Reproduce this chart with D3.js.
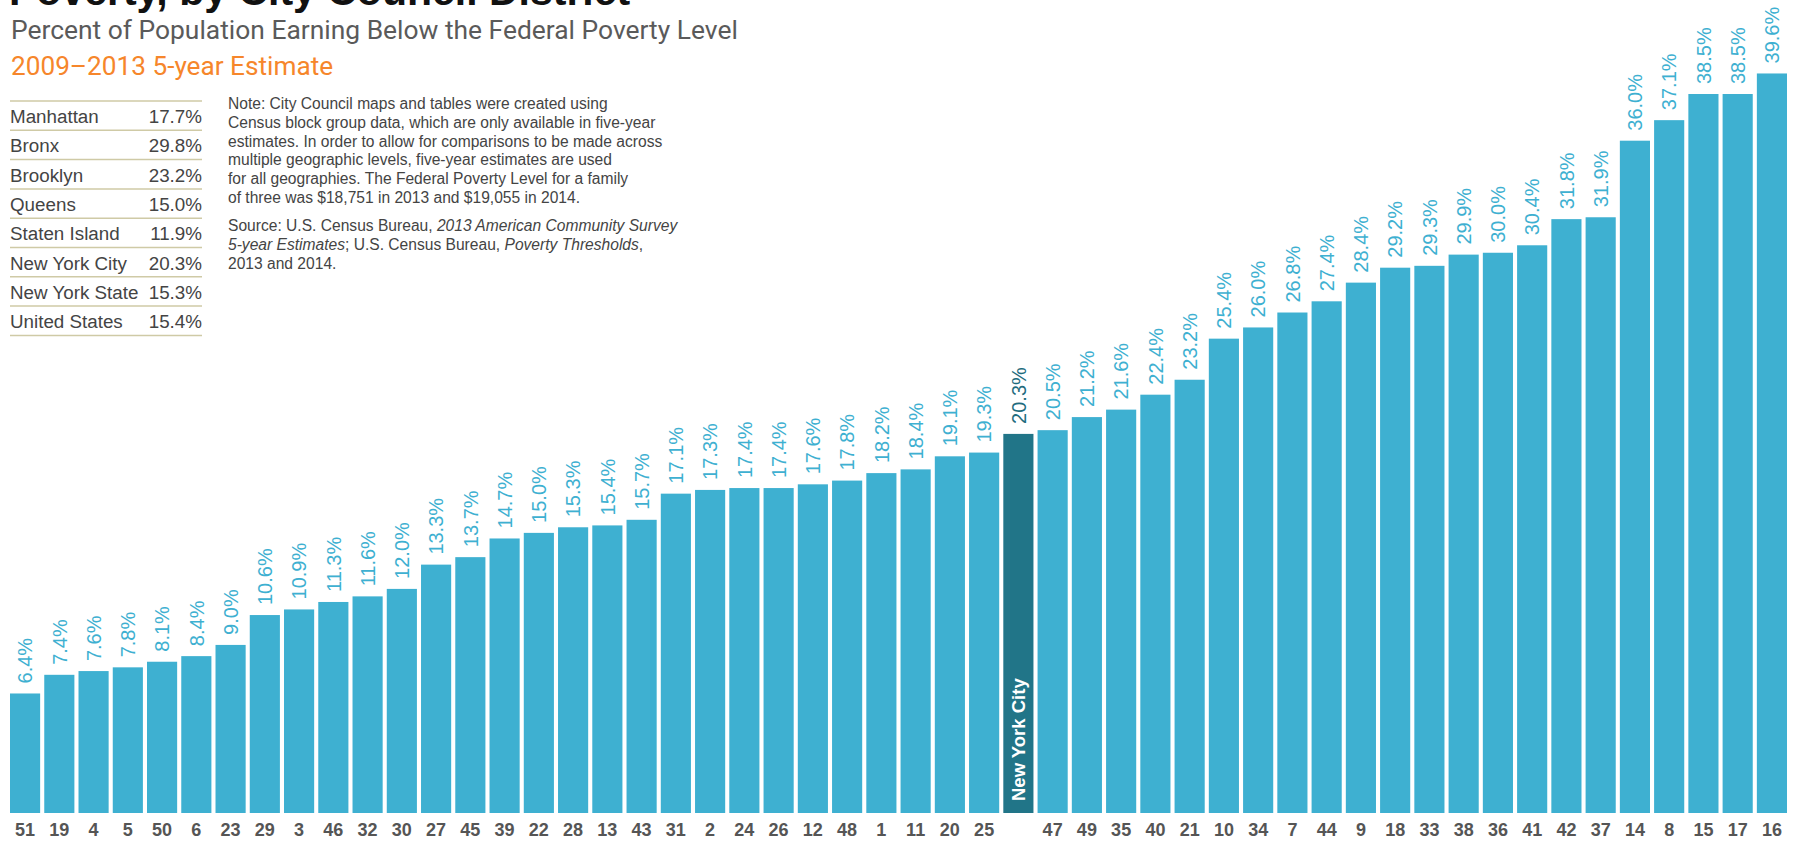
<!DOCTYPE html>
<html>
<head>
<meta charset="utf-8">
<script src="https://cdn.jsdelivr.net/npm/d3@7/dist/d3.min.js"></script>
<style>
  html, body { margin: 0; padding: 0; background: #fff; }
  svg { display: block; }
</style>
</head>
<body>
<div id="chart"></div>
<script>
// districts sorted by poverty rate, NYC inserted where it falls
const districts = ['51','19','4','5','50','6','23','29','3','46','32','30','27','45','39','22','28','13','43','31','2','24','26','12','48','1','11','20','25','NYC','47','49','35','40','21','10','34','7','44','9','18','33','38','36','41','42','37','14','8','15','17','16'];
const rates = [6.4,7.4,7.6,7.8,8.1,8.4,9.0,10.6,10.9,11.3,11.6,12.0,13.3,13.7,14.7,15.0,15.3,15.4,15.7,17.1,17.3,17.4,17.4,17.6,17.8,18.2,18.4,19.1,19.3,20.3,20.5,21.2,21.6,22.4,23.2,25.4,26.0,26.8,27.4,28.4,29.2,29.3,29.9,30.0,30.4,31.8,31.9,36.0,37.1,38.5,38.5,39.6];

const areas = ['Manhattan','Bronx','Brooklyn','Queens','Staten Island','New York City','New York State','United States'];
const areaRates = [17.7,29.8,23.2,15.0,11.9,20.3,15.3,15.4];

const noteLines = [
  'Note: City Council maps and tables were created using',
  'Census block group data, which are only available in five-year',
  'estimates. In order to allow for comparisons to be made across',
  'multiple geographic levels, five-year estimates are used',
  'for all geographies. The Federal Poverty Level for a family',
  'of three was $18,751 in 2013 and $19,055 in 2014.'
];

const W = 1798, H = 844;
const barColor = '#3eb0d1', nycColor = '#217588';
const sans = 'Liberation Sans, Arial, sans-serif';

const svg = d3.select('#chart').append('svg')
  .attr('width', W).attr('height', H);

// headings
svg.append('text').attr('x', 9).attr('y', 5)
  .attr('font-family', sans)
  .attr('font-weight', 'bold').attr('font-size', 41).attr('fill', '#111')
  .text('Poverty, by City Council District');
svg.append('text').attr('x', 11).attr('y', 39)
  .attr('font-family', 'Roboto, sans-serif')
  .attr('font-size', 26.4).attr('fill', '#5a5a5a')
  .text('Percent of Population Earning Below the Federal Poverty Level');
svg.append('text').attr('x', 11).attr('y', 75)
  .attr('font-family', 'Roboto, sans-serif')
  .attr('font-size', 26.2).attr('fill', '#f6862b')
  .text('2009\u20132013 5-year Estimate');

// borough summary table
const rowH = 29.3, tableTop = 101, tableL = 10, tableR = 202;
const table = svg.append('g').attr('font-family', sans)
  .attr('font-size', 18.8).attr('fill', '#444');
table.selectAll('line').data(d3.range(areas.length + 1)).join('line')
  .attr('x1', tableL).attr('x2', tableR)
  .attr('y1', i => tableTop + i * rowH).attr('y2', i => tableTop + i * rowH)
  .attr('stroke', '#cfcaa6').attr('stroke-width', 1.5);
table.selectAll('text.name').data(areas).join('text').attr('class', 'name')
  .attr('x', tableL).attr('y', (d, i) => tableTop + i * rowH + 22)
  .text(d => d);
table.selectAll('text.val').data(areaRates).join('text').attr('class', 'val')
  .attr('x', tableR).attr('y', (d, i) => tableTop + i * rowH + 22)
  .attr('text-anchor', 'end')
  .text(d => d.toFixed(1) + '%');

// note + source
const note = svg.append('g').attr('font-family', sans)
  .attr('font-size', 15.6).attr('fill', '#444');
note.selectAll('text').data(noteLines).join('text')
  .attr('x', 228).attr('y', (d, i) => 109 + i * 18.8)
  .text(d => d);
const src = note.append('text').attr('x', 228).attr('y', 231);
src.append('tspan').text('Source: U.S. Census Bureau, ');
src.append('tspan').attr('font-style', 'italic').text('2013 American Community Survey');
const src2 = note.append('text').attr('x', 228).attr('y', 250);
src2.append('tspan').attr('font-style', 'italic').text('5-year Estimates');
src2.append('tspan').text('; U.S. Census Bureau, ');
src2.append('tspan').attr('font-style', 'italic').text('Poverty Thresholds');
src2.append('tspan').text(',');
note.append('text').attr('x', 228).attr('y', 268.5).text('2013 and 2014.');

// bars
const x = d3.scaleBand().domain(districts).range([10, 1787]).paddingInner(0.12);
const y = d3.scaleLinear().domain([0, 40]).range([813, 66]);

const data = districts.map((d, i) => ({ district: d, rate: rates[i] }));

svg.append('g').selectAll('rect').data(data).join('rect')
  .attr('x', d => x(d.district))
  .attr('y', d => y(d.rate))
  .attr('width', x.bandwidth())
  .attr('height', d => y(0) - y(d.rate))
  .attr('fill', d => d.district === 'NYC' ? nycColor : barColor);

// value labels, rotated
svg.append('g').attr('font-family', sans)
  .attr('font-size', 20)
  .selectAll('text').data(data).join('text')
  .attr('transform', d => `translate(${x(d.district) + x.bandwidth() / 2},${y(d.rate) - 10}) rotate(-90)`)
  .attr('dy', '0.36em')
  .attr('fill', d => d.district === 'NYC' ? '#1f6c7e' : barColor)
  .text(d => d.rate.toFixed(1) + '%');

// NYC label inside bar
svg.append('text')
  .attr('transform', `translate(${x('NYC') + x.bandwidth() / 2},801) rotate(-90)`)
  .attr('dy', '0.36em')
  .attr('font-family', sans)
  .attr('font-weight', 'bold').attr('font-size', 18.5).attr('fill', '#fff')
  .text('New York City');

// district axis
const xAxis = svg.append('g').attr('transform', 'translate(0,813)')
  .call(d3.axisBottom(x).tickSize(0).tickPadding(23)
    .tickFormat(d => d === 'NYC' ? '' : d));
xAxis.select('.domain').remove();
xAxis.selectAll('text')
  .attr('font-family', sans)
  .attr('font-weight', 'bold').attr('font-size', 18).attr('fill', '#555')
  .attr('dy', 0);
</script>
</body>
</html>
